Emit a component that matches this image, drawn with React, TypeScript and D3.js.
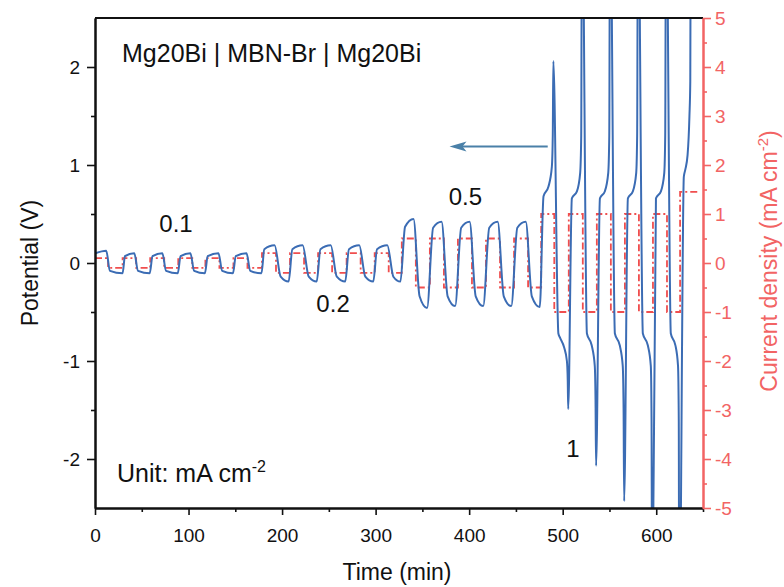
import React, { useEffect, useRef } from 'react'
import * as d3 from 'd3'

// potential (V) against time (min), one array per current step
const potential01: [number, number][] = [
    [0.5, 0.10], [12, 0.125], [16, -0.08], [29.5, -0.105],
    [32, 0.07], [42, 0.10], [46, -0.08], [58.5, -0.105],
    [61.5, 0.07], [72, 0.10], [76, -0.08], [88.5, -0.105],
    [91.5, 0.07], [102, 0.10], [106, -0.08], [117.5, -0.105],
    [120.5, 0.07], [132, 0.10], [136, -0.08], [147.5, -0.105],
    [150.5, 0.07], [162, 0.10], [166, -0.08], [178, -0.105],
]
const potential02: [number, number][] = [
    [181, 0.14], [192, 0.18], [198.5, -0.14], [207, -0.19],
    [211, 0.14], [222, 0.18], [228.5, -0.14], [237, -0.19],
    [241, 0.14], [252, 0.18], [258.5, -0.14], [267.5, -0.19],
    [271.5, 0.14], [282.5, 0.18], [289, -0.14], [297.5, -0.19],
    [301.5, 0.14], [312.5, 0.18], [319, -0.14], [326.5, -0.19],
]
const potential05: [number, number][] = [
    [331.5, 0.37], [340.5, 0.45], [347, -0.34], [355, -0.46],
    [361.5, 0.36], [370.5, 0.42], [377, -0.34], [385, -0.44],
    [391.5, 0.36], [400.5, 0.42], [407, -0.34], [415, -0.44],
    [421.5, 0.36], [430.5, 0.42], [437, -0.34], [445, -0.44],
    [451.5, 0.36], [460.5, 0.42], [467, -0.34], [475.5, -0.45],
]
const potential1: [number, number][] = [
    [479.5, 0.68], [484.8, 0.78], [488.4, 0.98], [489.4, 1.3], [490.0, 2.06],
    [495.4, -0.72], [497, -0.76], [501.5, -0.86], [504.5, -1.0], [505.4, -1.2], [505.9, -1.49],
    [509.8, 0.66], [515.2, 0.73], [518.7, 0.92], [519.8, 1.3], [520.6, 4],
    [525.9, -0.72], [531, -0.84], [534.3, -1.05], [535.1, -1.4], [535.7, -2.07],
    [539.8, 0.66], [545, 0.73], [548.7, 0.92], [549.8, 1.3], [550.6, 4],
    [555.8, -0.72], [561, -0.84], [564.2, -1.05], [565.1, -1.5], [565.7, -2.43],
    [569.7, 0.66], [575, 0.73], [578.6, 0.92], [579.6, 1.3], [580.5, 4],
    [585.7, -0.72], [591, -0.84], [594.2, -1.05], [595.0, -1.6], [595.6, -4],
    [599.7, 0.66], [605, 0.73], [608.6, 0.92], [609.6, 1.3], [610.5, 4],
    [615.6, -0.72], [620.5, -0.84], [623.3, -1.05], [624.1, -1.6], [624.6, -4],
    [629.5, 0.88], [631, 0.95], [633.5, 1.1], [635.5, 1.5], [636.4, 1.85], [637, 4],
]

// applied current density (mA cm-2): start time of each step and its value
const stepTimes = [
    0, 14, 29.5, 44, 59, 74, 89, 104, 118, 133, 148, 163,
    178.5, 193.5, 208.5, 223.5, 238.5, 253.5, 269, 284, 299, 314,
    328, 343, 358, 373, 388, 403, 418, 433, 448, 463,
    477, 491, 506.5, 521.5, 536.5, 551.5, 566.5, 581.5, 596.5, 611.5,
    625.5, 644,
]
const stepCurrents = [
    0.1, -0.1, 0.1, -0.1, 0.1, -0.1, 0.1, -0.1, 0.1, -0.1, 0.1, -0.1,
    0.2, -0.2, 0.2, -0.2, 0.2, -0.2, 0.2, -0.2, 0.2, -0.2,
    0.5, -0.5, 0.5, -0.5, 0.5, -0.5, 0.5, -0.5, 0.5, -0.5,
    1, -1, 1, -1, 1, -1, 1, -1, 1, -1,
    1.45, 1.45,
]

const timeTicks = [0, 100, 200, 300, 400, 500, 600]
const timeMinor = [50, 150, 250, 350, 450, 550, 650]
const potentialTicks = [-2, -1, 0, 1, 2]
const potentialMinor = [-1.5, -0.5, 0.5, 1.5]
const currentTicks = [-5, -4, -3, -2, -1, 0, 1, 2, 3, 4, 5]
const currentMinor = [-4.5, -3.5, -2.5, -1.5, -0.5, 0.5, 1.5, 2.5, 3.5, 4.5]

const rateLabels = ['0.1', '0.2', '0.5', '1']

const FONT = "Arial, 'Liberation Sans', sans-serif"
const BLUE = '#3b6cb4'
const RED = '#f04e4e'
const RED_AXIS = '#f26464'

const App = () => {
    const ref = useRef<SVGSVGElement>(null)

    useEffect(() => {
        const svg = d3.select(ref.current)
        svg.selectAll('*').remove()

        const left = 95
        const right = 703
        const top = 18
        const bottom = 508

        const x = d3.scaleLinear().domain([0, 650]).range([left, right])
        const y = d3.scaleLinear().domain([-2.5, 2.5]).range([bottom, top])
        const yR = d3.scaleLinear().domain([-5, 5]).range([bottom, top])

        svg.append('defs').append('clipPath').attr('id', 'plot-clip')
            .append('rect')
            .attr('x', left).attr('y', top)
            .attr('width', right - left).attr('height', bottom - top)

        const plot = svg.append('g').attr('clip-path', 'url(#plot-clip)')

        // current steps (right axis)
        const steps = stepTimes.map((t, i) => [t, stepCurrents[i]] as [number, number])
        const stepLine = d3.line<[number, number]>()
            .x(d => x(d[0]))
            .y(d => yR(d[1]))
            .curve(d3.curveStepAfter)

        plot.append('path')
            .datum(steps)
            .attr('d', stepLine)
            .attr('fill', 'none')
            .attr('stroke', RED)
            .attr('stroke-width', 1.8)
            .attr('stroke-dasharray', '7,3,2,3')

        // potential trace
        const trace = [...potential01, ...potential02, ...potential05, ...potential1]
        const traceLine = d3.line<[number, number]>()
            .x(d => x(d[0]))
            .y(d => y(d[1]))
            .curve(d3.curveMonotoneX)

        plot.append('path')
            .datum(trace)
            .attr('d', traceLine)
            .attr('fill', 'none')
            .attr('stroke', BLUE)
            .attr('stroke-width', 2)
            .attr('stroke-linejoin', 'round')

        // frame
        svg.append('line')
            .attr('x1', left).attr('x2', right)
            .attr('y1', top).attr('y2', top)
            .attr('stroke', '#111').attr('stroke-width', 2)

        const styleAxis = (g: any, color: string) => {
            g.selectAll('.domain').attr('stroke', color).attr('stroke-width', 2)
            g.selectAll('.tick line').attr('stroke', color).attr('stroke-width', 1.6)
            g.selectAll('text')
                .attr('fill', color)
                .attr('font-family', FONT)
                .attr('font-size', 19)
        }

        // bottom axis
        const xMinor = svg.append('g')
            .attr('transform', `translate(0,${bottom})`)
            .call(d3.axisBottom(x).tickValues(timeMinor).tickSize(4).tickSizeOuter(0).tickFormat(() => ''))
        styleAxis(xMinor, '#111')
        const xAxis = svg.append('g')
            .attr('transform', `translate(0,${bottom})`)
            .call(d3.axisBottom(x).tickValues(timeTicks).tickSize(7).tickSizeOuter(0))
        styleAxis(xAxis, '#111')
        xAxis.selectAll('text').attr('y', 34).attr('dy', null)

        // left axis
        const yMinor = svg.append('g')
            .attr('transform', `translate(${left},0)`)
            .call(d3.axisLeft(y).tickValues(potentialMinor).tickSize(4).tickSizeOuter(0).tickFormat(() => ''))
        styleAxis(yMinor, '#111')
        const yAxis = svg.append('g')
            .attr('transform', `translate(${left},0)`)
            .call(d3.axisLeft(y).tickValues(potentialTicks).tickSize(8).tickSizeOuter(0)
                .tickFormat(d => String(d)))
        styleAxis(yAxis, '#111')
        yAxis.selectAll('text').attr('x', -15)

        // right axis
        const rMinor = svg.append('g')
            .attr('transform', `translate(${right},0)`)
            .call(d3.axisRight(yR).tickValues(currentMinor).tickSize(4).tickSizeOuter(0).tickFormat(() => ''))
        styleAxis(rMinor, RED_AXIS)
        const rAxis = svg.append('g')
            .attr('transform', `translate(${right},0)`)
            .call(d3.axisRight(yR).tickValues(currentTicks).tickSize(8).tickSizeOuter(0)
                .tickFormat(d => String(d)))
        styleAxis(rAxis, RED_AXIS)
        rAxis.selectAll('text').attr('x', 12)

        // axis titles
        svg.append('text')
            .attr('x', (left + right) / 2 - 2)
            .attr('y', 580)
            .attr('text-anchor', 'middle')
            .attr('font-family', FONT)
            .attr('font-size', 23)
            .attr('fill', '#111')
            .text('Time (min)')

        svg.append('text')
            .attr('transform', `translate(38,${y(0)}) rotate(-90)`)
            .attr('text-anchor', 'middle')
            .attr('font-family', FONT)
            .attr('font-size', 23)
            .attr('fill', '#111')
            .text('Potential (V)')

        const rTitle = svg.append('text')
            .attr('transform', `translate(777,${y(0) - 2}) rotate(-90)`)
            .attr('text-anchor', 'middle')
            .attr('font-family', FONT)
            .attr('font-size', 23)
            .attr('fill', RED_AXIS)
        rTitle.append('tspan').text('Current density (mA cm')
        rTitle.append('tspan').attr('dy', -9).attr('font-size', 15).text('-2')
        rTitle.append('tspan').attr('dy', 9).text(')')

        // annotations
        svg.append('text')
            .attr('x', 122).attr('y', 62)
            .attr('font-family', FONT).attr('font-size', 25).attr('fill', '#111')
            .text('Mg20Bi | MBN-Br | Mg20Bi')

        const unit = svg.append('text')
            .attr('x', 117).attr('y', 482)
            .attr('font-family', FONT).attr('font-size', 25).attr('fill', '#111')
        unit.append('tspan').text('Unit: mA cm')
        unit.append('tspan').attr('dy', -10).attr('font-size', 16).text('-2')

        const labelAt: [number, number][] = [[86.6, 0.32], [254.5, -0.5], [396, 0.59], [511, -1.98]]
        rateLabels.forEach((s, i) => {
            svg.append('text')
                .attr('x', x(labelAt[i][0]))
                .attr('y', y(labelAt[i][1]))
                .attr('text-anchor', 'middle')
                .attr('font-family', FONT).attr('font-size', 24).attr('fill', '#111')
                .text(s)
        })

        // arrow pointing to the left axis
        const ay = y(1.19)
        const ax0 = x(484)
        const ax1 = x(379)
        svg.append('line')
            .attr('x1', ax0).attr('x2', ax1 + 12)
            .attr('y1', ay).attr('y2', ay)
            .attr('stroke', '#4a80a8').attr('stroke-width', 2)
        svg.append('path')
            .attr('d', `M${ax1},${ay} L${ax1 + 17},${ay - 5} L${ax1 + 13},${ay} L${ax1 + 17},${ay + 5} Z`)
            .attr('fill', '#4a80a8')
    }, [])

    return (
        <svg
            ref={ref}
            width={784}
            height={587}
            style={{ position: 'absolute', left: 0, top: 0, background: '#fff' }}
        />
    )
}

export default App
